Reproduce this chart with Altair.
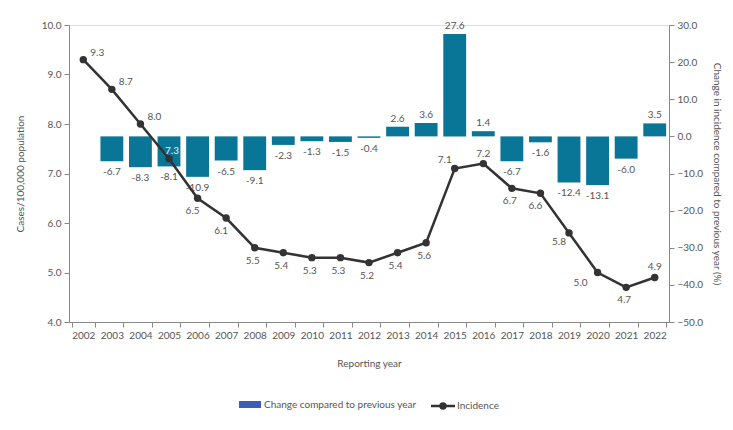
import altair as alt
import pandas as pd

years = list(range(2002, 2023))
incidence = [9.3, 8.7, 8.0, 7.3, 6.5, 6.1, 5.5, 5.4, 5.3, 5.3, 5.2, 5.4, 5.6,
             7.1, 7.2, 6.7, 6.6, 5.8, 5.0, 4.7, 4.9]
change = [None, -6.7, -8.3, -8.1, -10.9, -6.5, -9.1, -2.3, -1.3, -1.5, -0.4,
          2.6, 3.6, 27.6, 1.4, -6.7, -1.6, -12.4, -13.1, -6.0, 3.5]

left_ticks = [4, 5, 6, 7, 8, 9, 10]
right_ticks = [-50, -40, -30, -20, -10, 0, 10, 20, 30]

df = pd.DataFrame({"year": [str(y) for y in years], "inc": incidence, "chg": change})
df["chg_label"] = [("" if v is None or pd.isna(v) else f"{v:.1f}") for v in df["chg"]]
df["inc_label"] = [f"{v:.1f}" for v in df["inc"]]
bars_df = df.dropna(subset=["chg"])

FONT = "Lato"
GREY = "#555555"
AXC = "#888888"
BAR = "#0a7697"
LINE = "#333333"
FS = 10

x_enc = alt.X("year:O", title="Reporting year",
              scale=alt.Scale(paddingInner=0.2, paddingOuter=0.1),
              axis=alt.Axis(labelAngle=0, tickBand="extent", domainColor=AXC,
                            tickColor=AXC, labelColor=GREY, titleColor=GREY,
                            labelFontSize=FS, titleFontSize=FS, labelFont=FONT,
                            titleFont=FONT, titleFontWeight="normal",
                            labelPadding=3, titlePadding=18, tickSize=5))

yr_enc = alt.Y("chg:Q", scale=alt.Scale(domain=[-50, 30], nice=False, zero=False),
               title="Change in incidence compared to previous year (%)",
               axis=alt.Axis(orient="right", values=right_ticks, format=".1f", grid=False,
                             domainColor=AXC, tickColor=AXC, labelColor=GREY,
                             titleColor=GREY, labelFontSize=FS, titleFontSize=FS,
                             labelFont=FONT, titleFont=FONT, titleFontWeight="normal",
                             titlePadding=9, tickSize=5, labelPadding=3))

yl_enc = alt.Y("inc:Q", scale=alt.Scale(domain=[4, 10], nice=False, zero=False),
               title="Cases/100,000 population",
               axis=alt.Axis(orient="left", values=left_ticks, format=".1f", grid=False,
                             domainColor=AXC, tickColor=AXC, labelColor=GREY,
                             titleColor=GREY, labelFontSize=FS, titleFontSize=FS,
                             labelFont=FONT, titleFont=FONT, titleFontWeight="normal",
                             titlePadding=16, tickSize=5, labelPadding=3))

bars = alt.Chart(bars_df).mark_bar(color=BAR).encode(
    x=x_enc, y=yr_enc, y2=alt.datum(0))
bar_txt_pos = alt.Chart(bars_df).transform_filter("datum.chg > 0").mark_text(
    font=FONT, fontSize=FS, color=GREY, dy=-8).encode(
    x=x_enc, y=yr_enc, text="chg_label:N")
bar_txt_neg = alt.Chart(bars_df).transform_filter("datum.chg < 0").mark_text(
    font=FONT, fontSize=FS, color=GREY, dy=11).encode(
    x=x_enc, y=yr_enc, text="chg_label:N")

bar_layer = alt.layer(bars, bar_txt_pos, bar_txt_neg)

line = alt.Chart(df).mark_line(color=LINE, strokeWidth=2.5).encode(x=x_enc, y=yl_enc)
pts = alt.Chart(df).mark_point(filled=True, color=LINE, size=55, opacity=1).encode(
    x=x_enc, y=yl_enc)

groups = [
    (["2002", "2003", "2004"], dict(dx=7, dy=-7, align="left", color=GREY)),
    (["2005"], dict(dx=3, dy=-8, align="center", color="#e8f2f6")),
    (["2015"], dict(dx=-10, dy=-9, align="center", color=GREY)),
    (["2016", "2022"], dict(dx=0, dy=-10, align="center", color=GREY)),
    (["2006", "2007", "2018"], dict(dx=-5, dy=13, align="center", color=GREY)),
    (["2019"], dict(dx=-10, dy=9, align="center", color=GREY)),
    (["2020"], dict(dx=-17, dy=10, align="center", color=GREY)),
    (["2008", "2009", "2010", "2011", "2012", "2013", "2014", "2017", "2021"],
     dict(dx=-2, dy=13, align="center", color=GREY)),
]
inc_txt = []
for yrs, st in groups:
    inc_txt.append(
        alt.Chart(df).transform_filter(alt.FieldOneOfPredicate(field="year", oneOf=yrs))
        .mark_text(font=FONT, fontSize=FS, baseline="middle", **st)
        .encode(x=x_enc, y=yl_enc, text="inc_label:N"))

line_layer = alt.layer(line, pts, *inc_txt)

one = pd.DataFrame({"a": [0]})
leg_rect = alt.Chart(one).mark_rect(color="#3b5fb5").encode(
    x=alt.value(170), x2=alt.value(192), y=alt.value(376), y2=alt.value(383))
leg_t1 = alt.Chart(one).mark_text(font=FONT, fontSize=FS, color=GREY, align="left",
                                  baseline="middle", text="Change compared to previous year").encode(
    x=alt.value(195), y=alt.value(380))
leg_rule = alt.Chart(one).mark_rule(color=LINE, strokeWidth=2.5).encode(
    x=alt.value(362), x2=alt.value(386), y=alt.value(381))
leg_dot = alt.Chart(one).mark_point(filled=True, color=LINE, size=55, opacity=1).encode(
    x=alt.value(374), y=alt.value(381))
leg_t2 = alt.Chart(one).mark_text(font=FONT, fontSize=FS, color=GREY, align="left",
                                  baseline="middle", text="Incidence").encode(
    x=alt.value(388), y=alt.value(381))
legend_layer = alt.layer(leg_rect, leg_t1, leg_rule, leg_dot, leg_t2)

chart = alt.layer(bar_layer, line_layer, legend_layer).resolve_scale(
    y="independent").properties(
    width=600, height=297,
    autosize=alt.AutoSizeParams(type="none"),
    padding={"left": 61, "top": 17, "right": 56, "bottom": 100},
).configure_view(stroke=None).configure(background="white")

chart.save("out.html", embed_options={"renderer": "svg", "actions": False})
